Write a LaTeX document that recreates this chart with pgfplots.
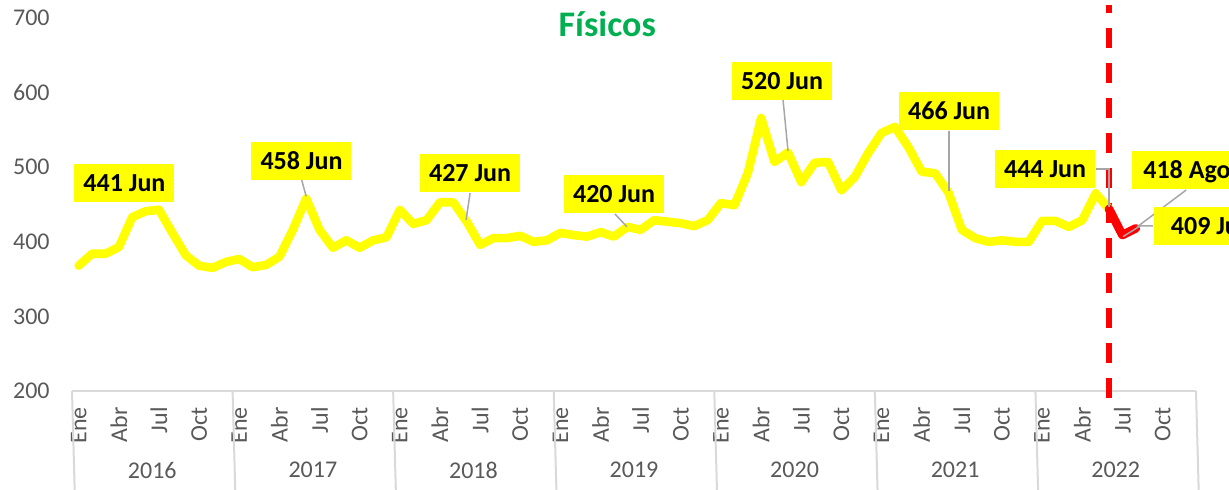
\documentclass[border=0pt]{standalone}
\usepackage{fontspec}
\setmainfont{Carlito}
\usepackage{pgfplots}
\pgfplotsset{compat=1.18}
\definecolor{ylw}{RGB}{255,255,0}
\definecolor{rd}{RGB}{255,0,0}
\definecolor{grn}{RGB}{0,176,80}
\definecolor{tk}{RGB}{89,89,89}
\definecolor{sep}{RGB}{217,217,217}
\definecolor{lead}{RGB}{166,166,166}
\begin{document}
\begin{tikzpicture}[lbl/.style={fill=ylw, font=\bfseries\fontsize{13}{13}\selectfont, inner sep=0pt, minimum width=50pt, minimum height=19pt, text height=8.5pt, text depth=0pt}]
\begin{axis}[
  width=562pt, height=186.5pt, scale only axis,
  xmin=-0.5, xmax=83.5, ymin=200, ymax=700,
  axis line style={draw=none},
  major tick length=0pt,
  ytick={200,300,...,700},
  xtick={0,3,...,81},
  xticklabels={Ene,Abr,Jul,Oct,Ene,Abr,Jul,Oct,Ene,Abr,Jul,Oct,Ene,Abr,Jul,Oct,Ene,Abr,Jul,Oct,Ene,Abr,Jul,Oct,Ene,Abr,Jul,Oct},
  tick label style={font=\fontsize{12}{12}\selectfont, text=tk},
  yticklabel style={anchor=east, inner sep=0pt},
  yticklabel shift=11pt,
  xticklabel style={rotate=90, anchor=east, inner sep=0pt},
  xticklabel shift=8pt,
  /pgf/number format/assume math mode=true,
  clip=false,
]
% bottom axis and year separators
\draw[sep, line width=1pt] (axis cs:-0.5,200) -- (axis cs:83.5,200);
\pgfplotsinvokeforeach{-0.5,11.5,23.5,35.5,47.5,59.5,71.5,83.5}{
  \draw[sep, line width=1pt] (axis cs:#1,200) -- ++(0,-49pt);
}
\node[text=tk, font=\fontsize{12}{12}\selectfont] at (axis cs:5.5,200) [yshift=-39.5pt] {2016};
\node[text=tk, font=\fontsize{12}{12}\selectfont] at (axis cs:17.5,200) [yshift=-39.5pt] {2017};
\node[text=tk, font=\fontsize{12}{12}\selectfont] at (axis cs:29.5,200) [yshift=-39.5pt] {2018};
\node[text=tk, font=\fontsize{12}{12}\selectfont] at (axis cs:41.5,200) [yshift=-39.5pt] {2019};
\node[text=tk, font=\fontsize{12}{12}\selectfont] at (axis cs:53.5,200) [yshift=-39.5pt] {2020};
\node[text=tk, font=\fontsize{12}{12}\selectfont] at (axis cs:65.5,200) [yshift=-39.5pt] {2021};
\node[text=tk, font=\fontsize{12}{12}\selectfont] at (axis cs:77.5,200) [yshift=-39.5pt] {2022};
% title
\node[text=grn, font=\bfseries\fontsize{18}{18}\selectfont] at (axis cs:39.5,692) {Físicos};
% dashed marker
\draw[rd, line width=2.8pt, dash pattern=on 10pt off 7.5pt] (axis cs:77,190.6) -- (axis cs:77,717.4);
% data
\addplot[ylw, line width=4.3pt, line join=round, line cap=round, mark=none] table {
x y
0 368
1 384
2 384
3 393
4 433
5 441
6 443
7 412
8 382
9 368
10 365
11 373
12 377
13 366
14 369
15 380
16 416
17 458
18 416
19 392
20 402
21 392
22 402
23 406
24 443
25 424
26 429
27 453
28 453
29 427
30 396
31 405
32 405
33 408
34 400
35 402
36 412
37 409
38 407
39 413
40 407
41 420
42 416
43 429
44 427
45 425
46 421
47 429
48 452
49 449
50 492
51 566
52 507
53 520
54 480
55 506
56 507
57 469
58 487
59 519
60 546
61 554
62 527
63 494
64 492
65 466
66 416
67 405
68 400
69 402
70 400
71 400
72 428
73 428
74 420
75 429
76 465
77 444
};
\addplot[rd, line width=4.3pt, line join=round, line cap=round, mark=none] table {
x y
77 444
78 409
79 418
};
% leader lines
\draw[lead, line width=0.75pt] (axis cs:16.65,484) -- (axis cs:17,461);
\draw[lead, line width=0.75pt] (axis cs:29.25,465.4) -- (axis cs:28.95,429.2);
\draw[lead, line width=0.75pt] (axis cs:40.08,437.3) -- (axis cs:40.98,420);
\draw[lead, line width=0.75pt] (axis cs:52.64,590) -- (axis cs:53.01,522);
\draw[lead, line width=0.75pt] (axis cs:65.05,548.5) -- (axis cs:65.05,468);
\draw[lead, line width=0.75pt] (axis cs:76.0,497.6) -- (axis cs:77,497.6) -- (axis cs:77,446);
\draw[lead, line width=0.75pt] (axis cs:82.76,469.4) -- (axis cs:79.1,420);
\draw[lead, line width=0.75pt] (axis cs:80.3,421.2) -- (axis cs:79.32,421.2) -- (axis cs:78.05,407);
% labels
\node[lbl] at (axis cs:3.42,478.2) {441 Jun};
\node[lbl] at (axis cs:16.65,509.0) {458 Jun};
\node[lbl] at (axis cs:29.25,491.6) {427 Jun};
\node[lbl] at (axis cs:40.01,464.1) {420 Jun};
\node[lbl] at (axis cs:52.56,615.5) {520 Jun};
\node[lbl] at (axis cs:65.05,575.3) {466 Jun};
\node[lbl] at (axis cs:72.22,497.6) {444 Jun};
\node[lbl, anchor=west] at (axis cs:78.72,495.6) {\hspace{4.5pt}418 Ago\hspace{4.5pt}};
\node[lbl, anchor=west] at (axis cs:80.3,421.2) {\hspace{4.5pt}409 Jul\hspace{4.5pt}};
\end{axis}
\pgfresetboundingbox
\path[use as bounding box] (-36pt,-49pt) rectangle (578.5pt,195.5pt);
\end{tikzpicture}
\end{document}
